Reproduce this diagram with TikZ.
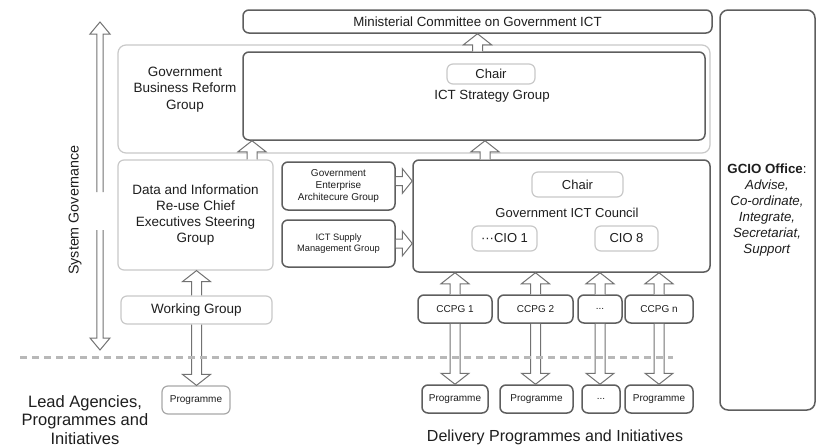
\documentclass[tikz,border=0pt]{standalone}
\usepackage{fontspec}
\setmainfont{Liberation Sans}
\usetikzlibrary{calc}

\definecolor{darkline}{HTML}{5E5E5E}
\definecolor{lightline}{HTML}{C9C9C9}
\definecolor{midline}{HTML}{A8A8A8}
\definecolor{arrowline}{HTML}{727272}
\definecolor{txt}{HTML}{1E1E1E}
\definecolor{dashgray}{HTML}{B8B8B8}

% block-arrow dimensions: half shaft width / half head width / head length
\def\blkshaft{5pt}
\def\blkhead{14pt}
\def\blklen{11pt}

\tikzset{
  x=1pt, y=-1pt,
  every node/.style={text=txt},
  box/.style={draw=darkline, line width=1.5pt, rounded corners=6pt, fill=white,
              inner sep=0pt, align=center},
  lightbox/.style={box, draw=lightline, line width=1.2pt},
  midbox/.style={box, draw=midline, line width=1.2pt},
  f/.style={font=\fontsize{#1}{#1}\selectfont},
  blk/.style={draw=arrowline, fill=white, line width=1pt, line join=miter},
  blkdims/.code args={#1/#2/#3}{\def\blkshaft{#1}\def\blkhead{#2}\def\blklen{#3}},
  % hollow vertical block arrow, x taken from the start point
  vblock/.style={blk, to path={let \p1=(\tikztostart), \p2=(\tikztotarget),
      \n1={ifthenelse(\y2>\y1,1,-1)} in
      (\x1-\blkshaft,\y1) -- (\x1-\blkshaft,\y2-\n1*\blklen)
      -- (\x1-\blkhead,\y2-\n1*\blklen) -- (\x1,\y2)
      -- (\x1+\blkhead,\y2-\n1*\blklen) -- (\x1+\blkshaft,\y2-\n1*\blklen)
      -- (\x1+\blkshaft,\y1)}},
  % hollow horizontal block arrow, y taken from the start point
  hblock/.style={blk, to path={let \p1=(\tikztostart), \p2=(\tikztotarget),
      \n1={ifthenelse(\x2>\x1,1,-1)} in
      (\x1,\y1-\blkshaft) -- (\x2-\n1*\blklen,\y1-\blkshaft)
      -- (\x2-\n1*\blklen,\y1-\blkhead) -- (\x2,\y1)
      -- (\x2-\n1*\blklen,\y1+\blkhead) -- (\x2-\n1*\blklen,\y1+\blkshaft)
      -- (\x1,\y1+\blkshaft)}},
}

\begin{document}
\begin{tikzpicture}
\useasboundingbox[fill=white] (0,0) rectangle (819,447);

% ---- top level -------------------------------------------------------
\node[box, minimum width=469pt, minimum height=23pt, f=13.3] (min) at (477.5,21.5)
  {Ministerial Committee on Government ICT};

\node[box, minimum width=95pt, minimum height=400pt, rounded corners=8pt] (gcio) at (767.5,210) {};
\node[align=center, font=\fontsize{13.3}{16}\selectfont] (gciotxt) at (767,210)
  {\textbf{GCIO Office}:\\\textit{Advise,}\\\textit{Co-ordinate,}\\\textit{Integrate,}\\\textit{Secretariat,}\\\textit{Support}};

% ---- reform group and strategy group ---------------------------------
\node[lightbox, minimum width=592pt, minimum height=108pt, rounded corners=8pt] (reform) at (414,99) {};
\node[align=center, font=\fontsize{13.5}{16.5}\selectfont] (reformtxt) at (185,89.5)
  {Government\\Business Reform\\Group};
\node[box, minimum width=462pt, minimum height=88pt] (strat) at (474,96) {};
\node[lightbox, minimum width=88pt, minimum height=20pt, f=13] (chair1) at (491,74) {Chair};
\node[f=13.3] (strattxt) at (492,96) {ICT Strategy Group};

% ---- data steering group and working group ---------------------------
\node[lightbox, minimum width=155pt, minimum height=110pt,
      font=\fontsize{13.5}{16}\selectfont] (data) at (195.5,215)
  {Data and Information\\Re-use Chief\\Executives Steering\\Group};
\node[lightbox, minimum width=151pt, minimum height=28pt, f=13.5] (wg) at (196.5,310) {Working Group};
\node[midbox, minimum width=68pt, minimum height=28pt, f=10] (lprog) at (196,400) {Programme};

% ---- side groups -------------------------------------------------------
\node[box, minimum width=113pt, minimum height=48pt, font=\fontsize{10}{12}\selectfont] (gea) at (338.5,186)
  {Government\\Enterprise\\Architecure Group};
\node[box, minimum width=113pt, minimum height=47pt, font=\fontsize{9.3}{11.5}\selectfont] (supply) at (338.5,243.5)
  {ICT Supply\\Management Group};

% ---- ICT council -------------------------------------------------------
\node[box, minimum width=297pt, minimum height=112pt] (council) at (561.5,216) {};
\node[lightbox, minimum width=91pt, minimum height=25pt, f=13] (chair2) at (577.5,184.5) {Chair};
\node[f=13] (counciltxt) at (567,213) {Government ICT Council};
\node[lightbox, minimum width=65pt, minimum height=25pt, f=13] (cio1) at (504.5,238.5) {···CIO 1};
\node[lightbox, minimum width=63pt, minimum height=25pt, f=13] (cio8) at (626.5,238.5) {CIO 8};

% ---- CCPGs and programmes ----------------------------------------------
\node[box, minimum width=74pt, minimum height=28pt, f=10] (c1) at (455,309) {CCPG 1};
\node[box, minimum width=75pt, minimum height=28pt, f=10] (c2) at (535.5,309) {CCPG 2};
\node[box, minimum width=44pt, minimum height=28pt, f=10] (c3) at (600,309) {...};
\node[box, minimum width=68pt, minimum height=28pt, f=10] (cn) at (659,309) {CCPG n};

\node[box, minimum width=66pt, minimum height=28pt, f=10] (p1) at (455,399) {Programme};
\node[box, minimum width=73pt, minimum height=28pt, f=10] (p2) at (536.5,399) {Programme};
\node[box, minimum width=38pt, minimum height=28pt, f=10] (p3) at (601,399) {...};
\node[box, minimum width=68pt, minimum height=28pt, f=10] (pn) at (659,399) {Programme};

% ---- block arrows ------------------------------------------------------
\coordinate (dataout) at ($(data.north)+(56.5,0)$);
\coordinate (councilout) at ($(council.north)+(-76.5,0)$);
\coordinate (geaout) at ($(gea.east)+(0,-5)$);

\draw[vblock] (min.south |- strat.north) to (min.south);
\draw[vblock] (dataout) to (dataout |- strat.south);
\draw[vblock] (councilout) to (councilout |- strat.south);

\draw[vblock] (wg.north) to (wg.north |- data.south);
\draw[vblock] (wg.south) to (wg.south |- lprog.north);

\draw[hblock, blkdims=4.5pt/12.5pt/10pt] (geaout) to (geaout -| council.west);
\draw[hblock, blkdims=4.5pt/12.5pt/10pt] (supply.east) to (supply.east -| council.west);

\foreach \ccpg/\prog in {c1/p1, c2/p2, c3/p3, cn/pn} {
  \draw[vblock] (\ccpg.north) to (\ccpg.north |- council.south);
  \draw[vblock] (\ccpg.south) to (\ccpg.south |- \prog.north);
}

% ---- system governance axis --------------------------------------------
\coordinate (sgtop) at (100,22);
\coordinate (sgup) at (100,192);
\coordinate (sgdn) at (100,230);
\coordinate (sgbot) at (100,350);
\draw[vblock, blkdims=3.2pt/10pt/12pt] (sgup) to (sgtop);
\draw[vblock, blkdims=3.2pt/10pt/12pt] (sgdn) to (sgbot);
\node[rotate=90, f=14.3] (sg) at (75,210) {System Governance};

% ---- divider and bottom labels -----------------------------------------
\coordinate (divl) at (20,357);
\coordinate (divr) at (673,357);
\draw[dashgray, line width=3pt, dash pattern=on 7pt off 5pt] (divl) -- (divr);

\node[align=center, font=\fontsize{16.5}{18.5}\selectfont] (lead) at (85,420)
  {Lead Agencies,\\Programmes and\\Initiatives};
\node[f=16] (delivery) at (555,437) {Delivery Programmes and Initiatives};
\end{tikzpicture}
\end{document}
